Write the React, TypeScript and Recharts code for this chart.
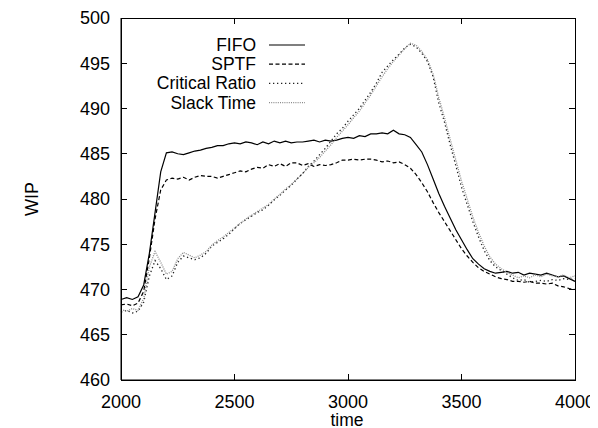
import React from 'react';
import { LineChart, Line, XAxis, YAxis, Legend } from 'recharts';

const times = [
  2000, 2025, 2050, 2075, 2100, 2125, 2150, 2175, 2200, 2225, 2250, 2275, 2300, 2325, 2350, 2375,
  2400, 2425, 2450, 2475, 2500, 2525, 2550, 2575, 2600, 2625, 2650, 2675, 2700, 2725, 2750, 2775,
  2800, 2825, 2850, 2875, 2900, 2925, 2950, 2975, 3000, 3025, 3050, 3075, 3100, 3125, 3150, 3175,
  3200, 3225, 3250, 3275, 3300, 3325, 3350, 3375, 3400, 3425, 3450, 3475, 3500, 3525, 3550, 3575,
  3600, 3625, 3650, 3675, 3700, 3725, 3750, 3775, 3800, 3825, 3850, 3875, 3900, 3925, 3950, 3975, 4000,
];

const fifo = [
  468.9, 469.1, 468.9, 469.2, 470.5, 474.0, 478.5, 483.0, 485.1, 485.2, 485.0, 484.9, 485.1, 485.3, 485.4, 485.6,
  485.7, 485.9, 485.9, 486.1, 486.2, 486.1, 486.3, 486.2, 486.0, 486.3, 486.1, 486.4, 486.2, 486.4, 486.2, 486.3,
  486.3, 486.4, 486.5, 486.3, 486.5, 486.4, 486.5, 486.7, 486.8, 486.7, 487.0, 486.9, 487.2, 487.2, 487.3, 487.2,
  487.6, 487.2, 487.1, 486.8, 486.0, 485.2, 483.8, 482.2, 480.6, 479.2, 477.9, 476.6, 475.5, 474.4, 473.4, 472.8,
  472.3, 472.0, 471.8, 471.9, 472.0, 471.8, 471.9, 471.6, 471.8, 471.7, 471.6, 471.8, 471.6, 471.4, 471.5, 471.2, 470.9,
];

const sptf = [
  468.3, 468.4, 468.2, 468.5, 469.8, 473.5, 477.8, 481.0, 482.1, 482.3, 482.2, 482.4, 482.1, 482.4, 482.6, 482.5,
  482.5, 482.3, 482.5, 482.7, 482.9, 483.1, 483.0, 483.3, 483.5, 483.4, 483.8, 483.6, 483.9, 483.6, 484.0, 484.0,
  483.7, 483.9, 483.6, 483.8, 483.7, 483.8, 484.0, 484.3, 484.3, 484.4, 484.3, 484.4, 484.4, 484.3, 484.1, 484.2,
  484.0, 484.1, 483.8, 483.4, 482.7, 481.8, 480.8, 479.6, 478.5, 477.5, 476.5, 475.5, 474.5, 473.7, 473.0, 472.4,
  472.0, 471.7, 471.4, 471.2, 471.1, 470.9, 470.9, 470.8, 470.9, 470.7, 470.7, 470.6, 470.7, 470.4, 470.3, 470.1, 470.0,
];

const criticalRatio = [
  467.5, 467.7, 467.4, 467.6, 468.6, 471.5, 473.2, 472.3, 471.1, 471.5, 473.0, 473.7, 473.5, 473.3, 473.5, 474.0,
  474.8, 475.2, 475.6, 476.1, 476.7, 477.3, 477.7, 478.1, 478.5, 478.8, 479.3, 479.9, 480.4, 481.0, 481.5, 482.2,
  482.8, 483.6, 484.2, 484.9, 485.6, 486.4, 487.2, 487.8, 488.6, 489.3, 490.0, 490.9, 491.8, 492.8, 494.0, 494.7,
  495.4, 496.0, 496.7, 497.1, 496.8, 496.1, 495.2, 493.5, 490.6, 488.5, 486.0, 483.7, 481.3, 479.4, 477.5, 475.8,
  474.3, 473.2, 472.5, 472.1, 471.7, 471.3, 471.0, 471.1, 470.8, 470.9, 471.0, 470.9, 471.1, 471.0, 471.2, 471.1, 471.2,
];

const slackTime = [
  467.8, 467.6, 467.9, 467.7, 469.0, 472.5, 474.2, 473.0, 471.7, 472.0, 473.4, 474.1, 473.8, 473.5, 473.8, 474.2,
  474.9, 475.4, 475.8, 476.3, 476.8, 477.3, 477.8, 478.2, 478.6, 479.0, 479.4, 480.0, 480.5, 481.1, 481.6, 482.2,
  482.8, 483.5, 484.0, 484.6, 485.3, 486.0, 486.8, 487.5, 488.2, 489.0, 489.7, 490.6, 491.5, 492.5, 493.5, 494.4,
  495.2, 495.9, 496.6, 497.2, 497.0, 496.3, 495.4, 493.8, 491.2, 489.0, 486.6, 484.3, 482.0, 480.0, 478.0, 476.3,
  474.8, 473.6, 472.8, 472.3, 471.9, 471.6, 471.3, 471.5, 471.3, 471.6, 471.4, 471.7, 471.5, 471.4, 471.6, 471.3, 471.5,
];

const xTicks = [2000, 2500, 3000, 3500, 4000];
const yTicks = [460, 465, 470, 475, 480, 485, 490, 495, 500];
const X_MIN = 2000;
const X_MAX = 4000;
const Y_MIN = 460;
const Y_MAX = 500;

const seriesDefs = [
  { key: 'fifo', name: 'FIFO', color: '#000000', dash: undefined as string | undefined, width: 1.2 },
  { key: 'sptf', name: 'SPTF', color: '#000000', dash: '4 2.5', width: 1.2 },
  { key: 'cr', name: 'Critical Ratio', color: '#222222', dash: '1.3 2.7', width: 1.3 },
  { key: 'slack', name: 'Slack Time', color: '#8a8a8a', dash: '1 1.2', width: 1.3 },
];

const data = times.map((t, i) => ({
  time: t,
  fifo: fifo[i],
  sptf: sptf[i],
  cr: criticalRatio[i],
  slack: slackTime[i],
}));

const FONT = '"Liberation Sans", Arial, Helvetica, sans-serif';
const FS = 18;
const W = 590;
const H = 420;
const M = { top: 10, right: 23, bottom: 0, left: 0 };
const Y_AXIS_W = 113;
const X_AXIS_H = 48;
// plot box derived from the chart layout above
const PL = M.left + Y_AXIS_W;
const PT = M.top;
const PW = W - M.right - PL;
const PH = H - M.bottom - X_AXIS_H - PT;
const TL = 6;

const sx = (v: number) => PL + ((v - X_MIN) / (X_MAX - X_MIN)) * PW;
const sy = (v: number) => PT + PH - ((v - Y_MIN) / (Y_MAX - Y_MIN)) * PH;

const LegendBox = () => (
  <svg width={320} height={120} style={{ overflow: 'visible' }}>
    {seriesDefs.map((s, i) => {
      const cy = 37 + i * 19.2;
      return (
        <g key={s.key}>
          <text x={248} y={cy} textAnchor="end" dominantBaseline="central" fontFamily={FONT} fontSize={17.5} fill="#000">
            {s.name}
          </text>
          <line x1={261} x2={297} y1={cy} y2={cy} stroke={s.color} strokeWidth={s.width} strokeDasharray={s.dash} />
        </g>
      );
    })}
  </svg>
);

const BottomTick = (p: any) => (
  <text x={p.x} y={p.y} dy="0.71em" textAnchor="middle" fontFamily={FONT} fontSize={FS} fill="#000">
    {p.payload.value}
  </text>
);

const LeftTick = (p: any) => (
  <text x={p.x} y={p.y} dy="0.355em" textAnchor="end" fontFamily={FONT} fontSize={FS} fill="#000">
    {p.payload.value}
  </text>
);

// Plot border with inward ticks on all four sides (gnuplot style)
const FrameOverlay = () => (
  <svg
    width={W}
    height={H}
    style={{ position: 'absolute', left: 0, top: 0, pointerEvents: 'none' }}
    shapeRendering="crispEdges"
  >
    <rect x={PL} y={PT} width={PW} height={PH} fill="none" stroke="#000" strokeWidth={1} />
    {xTicks.map((v) => (
      <g key={`x${v}`}>
        <line x1={sx(v)} x2={sx(v)} y1={PT + PH} y2={PT + PH - TL} stroke="#000" strokeWidth={1} />
        <line x1={sx(v)} x2={sx(v)} y1={PT} y2={PT + TL} stroke="#000" strokeWidth={1} />
      </g>
    ))}
    {yTicks.map((v) => (
      <g key={`y${v}`}>
        <line x1={PL} x2={PL + TL} y1={sy(v)} y2={sy(v)} stroke="#000" strokeWidth={1} />
        <line x1={PL + PW} x2={PL + PW - TL} y1={sy(v)} y2={sy(v)} stroke="#000" strokeWidth={1} />
      </g>
    ))}
  </svg>
);

export default function App() {
  return (
    <div style={{ position: 'relative', width: W, height: H }}>
      <LineChart width={W} height={H} data={data} margin={M}>
        <XAxis
          dataKey="time"
          type="number"
          domain={[X_MIN, X_MAX]}
          ticks={xTicks}
          height={X_AXIS_H}
          stroke="#000"
          tickLine={false}
          tickSize={0}
          tickMargin={15}
          tick={BottomTick}
          label={() => (
            <text x={339} y={417.5} textAnchor="middle" fontFamily={FONT} fontSize={17.5} fill="#000">
              time
            </text>
          )}
        />
        <YAxis
          type="number"
          domain={[Y_MIN, Y_MAX]}
          ticks={yTicks}
          width={Y_AXIS_W}
          stroke="#000"
          tickLine={false}
          tickSize={0}
          tickMargin={11}
          tick={LeftTick}
          label={() => (
            <text
              x={24}
              y={191}
              transform="rotate(-90 24 191)"
              textAnchor="middle"
              dominantBaseline="central"
              fontFamily={FONT}
              fontSize={FS}
              fill="#000"
            >
              WIP
            </text>
          )}
        />
        <Legend
          layout="vertical"
          align="center"
          verticalAlign="middle"
          wrapperStyle={{ left: 0, top: 0, width: 320, height: 120 }}
          content={() => <LegendBox />}
        />
        {seriesDefs.map((s) => (
          <Line
            key={s.key}
            dataKey={s.key}
            name={s.name}
            type="linear"
            stroke={s.color}
            strokeWidth={s.width}
            strokeDasharray={s.dash}
            dot={false}
            activeDot={false}
            isAnimationActive={false}
          />
        ))}
      </LineChart>
      <FrameOverlay />
    </div>
  );
}
